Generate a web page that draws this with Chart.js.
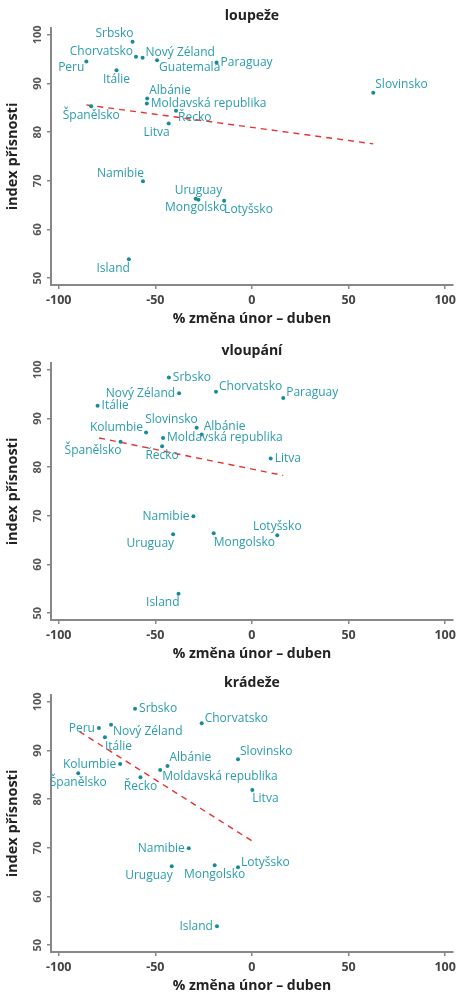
<!DOCTYPE html>
<html>
<head>
<meta charset="utf-8">
<script src="https://cdn.jsdelivr.net/npm/chart.js@4.4.1/dist/chart.umd.min.js"></script>
<style>
    html, body { margin: 0; padding: 0; background: #fff; overflow: hidden; }
    body { width: 460px; height: 992px; position: relative; }
    .panel { position: absolute; left: 0; width: 460px; height: 330px; }
</style>
</head>
<body>
<div class="panel" style="top:0"><canvas id="robberyChart" width="460" height="330"></canvas></div>
<div class="panel" style="top:335px"><canvas id="burglaryChart" width="460" height="330"></canvas></div>
<div class="panel" style="top:667px"><canvas id="theftChart" width="460" height="330"></canvas></div>
<script>
// Shared axes
const xTicks = [-100, -50, 0, 50, 100];
const yTicks = [50, 60, 70, 80, 90, 100];
const xTitle = '% změna únor – duben';
const yTitle = 'index přísnosti';

// loupeže
const robberyNames = ['Srbsko', 'Chorvatsko', 'Nový Zéland', 'Guatemala', 'Paraguay', 'Peru', 'Itálie',
    'Albánie', 'Moldavská republika', 'Řecko', 'Španělsko', 'Litva', 'Slovinsko', 'Namibie',
    'Uruguay', 'Mongolsko', 'Lotyšsko', 'Island'];
const robberyX = [-61.8, -60.0, -56.6, -49.1, -18.3, -85.7, -70.1, -54.2, -54.4, -39.3, -83.2, -43.1, 62.8, -56.4, -27.7, -29.1, -14.4, -63.7];
const robberyY = [98.6, 95.5, 95.3, 94.8, 94.3, 94.5, 92.7, 86.9, 85.9, 84.4, 85.3, 81.8, 88.1, 69.9, 66.1, 66.3, 65.9, 53.9];
const robberyLabelPos = [11, 10, 2, 4, 3, 8, 6, 1, 3, 4, 6, 7, 1, 11, 12, 6, 5, 7];
const robberyTrendX = [-85.7, 62.8];
const robberyTrendY = [85.6, 77.6];

// vloupání
const burglaryNames = ['Srbsko', 'Nový Zéland', 'Chorvatsko', 'Paraguay', 'Itálie', 'Slovinsko', 'Albánie',
    'Kolumbie', 'Moldavská republika', 'Řecko', 'Španělsko', 'Litva', 'Namibie', 'Uruguay',
    'Mongolsko', 'Lotyšsko', 'Island'];
const burglaryX = [-43.0, -37.7, -18.6, 16.2, -79.9, -28.6, -26.0, -54.8, -46.0, -46.5, -68.0, 9.7, -30.3, -40.8, -19.8, 13.1, -38.0];
const burglaryY = [98.4, 95.2, 95.5, 94.2, 92.6, 88.1, 86.7, 87.1, 86.0, 84.3, 85.2, 81.8, 69.9, 66.2, 66.4, 66.0, 54.0];
const burglaryLabelPos = [3, 9, 2, 2, 3, 11, 1, 10, 3, 6, 7, 3, 9, 7, 5, 12, 7];
const burglaryTrendX = [-79.1, 16.2];
const burglaryTrendY = [86.0, 78.3];

// krádeže
const theftNames = ['Srbsko', 'Peru', 'Nový Zéland', 'Itálie', 'Chorvatsko', 'Kolumbie', 'Albánie',
    'Moldavská republika', 'Španělsko', 'Řecko', 'Slovinsko', 'Litva', 'Namibie', 'Uruguay',
    'Mongolsko', 'Lotyšsko', 'Island'];
const theftX = [-60.5, -79.2, -72.9, -76.1, -26.0, -68.2, -43.7, -47.5, -89.9, -57.7, -7.2, 0.2, -32.7, -41.5, -19.3, -7.2, -18.1];
const theftY = [98.6, 94.6, 95.3, 92.7, 95.6, 87.2, 86.8, 86.0, 85.3, 84.5, 88.2, 81.9, 69.9, 66.2, 66.4, 66.0, 53.9];
const theftLabelPos = [3, 9, 4, 5, 2, 9, 1, 4, 6, 6, 1, 5, 9, 7, 6, 2, 9];
const theftTrendX = [-89.4, 0.5];
const theftTrendY = [93.9, 71.3];

const TEAL = '#2b9cac';
const DOT = '#168b9a';
const AXIS = '#888';
const FONT = "'Open Sans', 'DejaVu Sans', sans-serif";

// clock position -> [align, dx, dy]
const CLOCK = {
    1: ['left', 2, -8], 2: ['left', 3, -5], 3: ['left', 4, 0], 4: ['left', 2, 7],
    5: ['left', 0, 9], 6: ['center', 0, 9], 7: ['right', 1, 9], 8: ['right', -2, 6],
    9: ['right', -4, 0], 10: ['right', -3, -5], 11: ['right', 1, -8], 12: ['center', 0, -9]
};

// country names next to the dots, Stata-style clock positions
const pointLabels = {
    id: 'pointLabels',
    afterDatasetsDraw(chart, args, opts) {
        const meta = chart.getDatasetMeta(0);
        const ctx = chart.ctx;
        ctx.save();
        ctx.font = `12px ${FONT}`;
        ctx.fillStyle = TEAL;
        ctx.textBaseline = 'middle';
        meta.data.forEach((el, i) => {
            const [align, dx, dy] = CLOCK[opts.positions[i]];
            ctx.textAlign = align;
            ctx.fillText(opts.names[i], el.x + dx, el.y + dy);
        });
        ctx.restore();
    }
};

function makeChart(id, title, names, xs, ys, positions, trendX, trendY) {
    return new Chart(document.getElementById(id), {
        type: 'scatter',
        data: {
            datasets: [{
                data: xs.map((x, i) => ({ x: x, y: ys[i] })),
                backgroundColor: DOT,
                borderWidth: 0,
                pointRadius: 2
            }, {
                type: 'line',
                data: trendX.map((x, i) => ({ x: x, y: trendY[i] })),
                borderColor: '#e8312f',
                borderWidth: 1.4,
                borderDash: [6, 5],
                pointRadius: 0,
                fill: false
            }]
        },
        options: {
            responsive: false,
            animation: false,
            devicePixelRatio: 1,
            layout: { padding: { left: 0, right: 5, top: 0, bottom: 0 } },
            plugins: {
                legend: { display: false },
                tooltip: { enabled: false },
                pointLabels: { names: names, positions: positions }
            },
            scales: {
                x: {
                    type: 'linear', position: 'bottom', min: -104, max: 104,
                    afterBuildTicks: (s) => { s.ticks = xTicks.map(v => ({ value: v })); },
                    afterFit: (s) => { s.height = 45; },
                    border: { display: true, color: AXIS, width: 2 },
                    grid: { display: true, drawOnChartArea: false, drawTicks: true, tickLength: 4, color: AXIS, lineWidth: 1.5 },
                    ticks: { color: '#444', padding: 4, font: { family: FONT, size: 12.5, weight: 'bold' }, maxRotation: 0, autoSkip: false },
                    title: { display: true, text: xTitle, color: '#222', padding: { top: 0, bottom: 3 }, font: { family: FONT, size: 14, weight: 'bold' } }
                },
                top: {
                    type: 'linear', position: 'top', min: -104, max: 104,
                    afterFit: (s) => { s.height = 28; },
                    border: { display: false },
                    grid: { display: false },
                    ticks: { display: false },
                    title: { display: true, text: title, color: '#222', padding: { top: 8, bottom: 0 }, font: { family: FONT, size: 14, weight: 'bold' } }
                },
                y: {
                    type: 'linear', position: 'left', min: 48.6, max: 101.4,
                    afterBuildTicks: (s) => { s.ticks = yTicks.map(v => ({ value: v })); },
                    afterFit: (s) => { s.width = 51; },
                    border: { display: true, color: AXIS, width: 2 },
                    grid: { display: true, drawOnChartArea: false, drawTicks: true, tickLength: 4, color: AXIS, lineWidth: 1.5 },
                    ticks: { color: '#555', padding: 0, crossAlign: 'center', minRotation: 90, maxRotation: 90, autoSkip: false, font: { family: FONT, size: 11, weight: 'bold' } },
                    title: { display: true, text: yTitle, color: '#222', padding: { top: 4, bottom: 0 }, font: { family: FONT, size: 14.5, weight: 'bold' } }
                }
            }
        },
        plugins: [pointLabels]
    });
}

makeChart('robberyChart', 'loupeže', robberyNames, robberyX, robberyY, robberyLabelPos, robberyTrendX, robberyTrendY);
makeChart('burglaryChart', 'vloupání', burglaryNames, burglaryX, burglaryY, burglaryLabelPos, burglaryTrendX, burglaryTrendY);
makeChart('theftChart', 'krádeže', theftNames, theftX, theftY, theftLabelPos, theftTrendX, theftTrendY);
</script>
</body>
</html>
